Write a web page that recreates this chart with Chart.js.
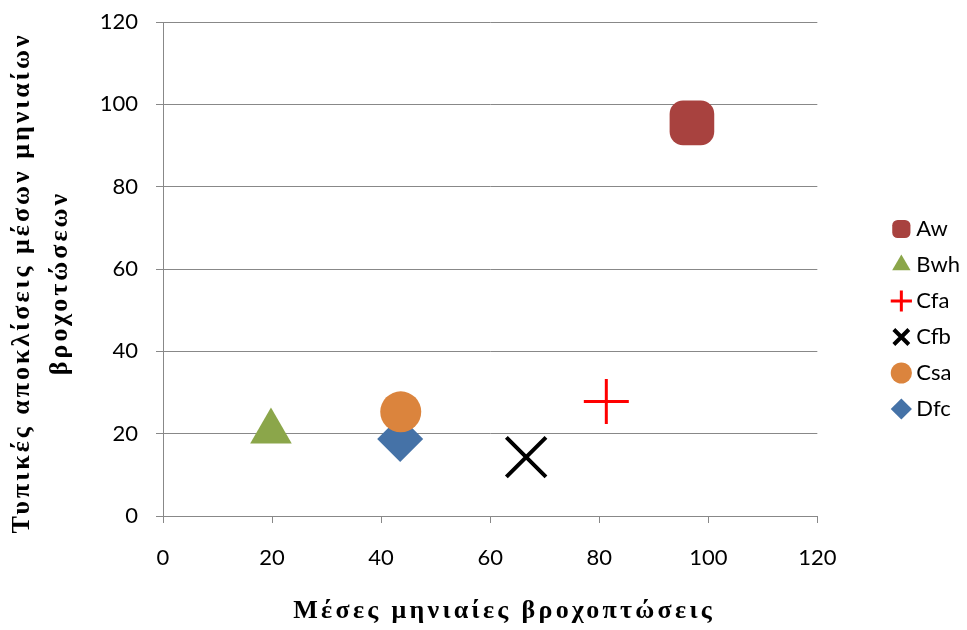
<!DOCTYPE html>
<html>
<head>
<meta charset="utf-8">
<script src="https://cdn.jsdelivr.net/npm/chart.js@4.4.1/dist/chart.umd.min.js"></script>
<style>
  html, body { margin: 0; padding: 0; background: #ffffff; }
  #wrap { width: 967px; height: 630px; position: relative; }
</style>
</head>
<body>
<div id="wrap"><canvas id="c" width="967" height="630"></canvas></div>
<script>
// ---- data ----
const seriesNames = ['Aw', 'Bwh', 'Cfa', 'Cfb', 'Csa', 'Dfc'];
const meanRain = [97, 19.8, 81.3, 66.6, 43.6, 43.5];      // x values
const stdRain  = [95.5, 20.5, 27.8, 14.3, 25.3, 18.7];    // y values
const xTicks = [0, 20, 40, 60, 80, 100, 120];
const yTicks = [0, 20, 40, 60, 80, 100, 120];
const xTitle = 'Μέσες μηνιαίες βροχοπτώσεις';
const yTitle = ['Τυπικές αποκλίσεις μέσων μηνιαίων', 'βροχοτώσεων'];

// ---- styles ----
const styles = {
  Aw:  { pointStyle: 'rectRounded', radius: 26, bg: '#A8423F', border: '#A8423F', bw: 0 },
  Bwh: { pointStyle: 'triangle',    radius: 24, bg: '#8BA64A', border: '#8BA64A', bw: 0 },
  Cfa: { pointStyle: 'cross',       radius: 22.5, bg: '#FF0000', border: '#FF0000', bw: 3 },
  Cfb: { pointStyle: 'crossRot',    radius: 28, bg: '#000000', border: '#000000', bw: 4 },
  Csa: { pointStyle: 'circle',      radius: 20.5, bg: '#DB843D', border: '#DB843D', bw: 0 },
  Dfc: { pointStyle: 'rectRot',     radius: 23, bg: '#4572A7', border: '#4572A7', bw: 0 }
};

const datasets = seriesNames.map((name, i) => {
  const s = styles[name];
  return {
    label: name,
    data: [{ x: meanRain[i], y: stdRain[i] }],
    yAxisID: 'y',
    pointStyle: s.pointStyle,
    pointRadius: s.radius,
    pointHoverRadius: s.radius,
    pointBackgroundColor: s.bg,
    pointBorderColor: s.border,
    pointBorderWidth: s.bw,
    backgroundColor: s.bg,
    borderColor: s.border,
    borderWidth: s.bw
  };
});

const gridColor = '#888888';
const tickFont = { family: 'Lato', size: 22 };

// widen axis-title lettering and nudge the titles to where the reference has them
const titleTweak = {
  id: 'titleTweak',
  afterLayout(chart) {
    const tweaks = { x: { dx: 14, dy: 0, ls: '3.3px' }, y: { dx: 0, dy: 14, ls: '3px' } };
    Object.keys(tweaks).forEach(id => {
      const s = chart.scales[id];
      if (!s || s._titleTweaked) return;
      const orig = s.drawTitle;
      const t = tweaks[id];
      s.drawTitle = function () {
        const ctx = this.ctx;
        ctx.save();
        ctx.translate(t.dx, t.dy);
        try { ctx.letterSpacing = t.ls; } catch (e) {}
        orig.call(this);
        ctx.restore();
      };
      s._titleTweaked = true;
    });
  }
};

new Chart(document.getElementById('c'), {
  type: 'scatter',
  data: { datasets },
  plugins: [titleTweak],
  options: {
    responsive: false,
    animation: false,
    events: [],
    layout: { autoPadding: false, padding: { left: 0, right: -3, top: 8, bottom: 0 } },
    plugins: {
      tooltip: { enabled: false },
      legend: {
        position: 'right',
        align: 'center',
        labels: {
          usePointStyle: true,
          boxWidth: 8,
          boxHeight: 15,
          padding: 14,
          color: '#000000',
          font: { family: 'Lato', size: 22 }
        }
      }
    },
    scales: {
      x: {
        type: 'linear',
        min: 0, max: 120,
        afterBuildTicks: (s) => { s.ticks = xTicks.map(v => ({ value: v })); },
        afterFit: (s) => { s.height = 114; },
        grid: { display: true, drawOnChartArea: false, drawTicks: true, tickLength: 7, color: gridColor, lineWidth: 1 },
        border: { display: true, color: gridColor, width: 1 },
        ticks: { font: tickFont, color: '#000000', padding: 22, maxRotation: 0 },
        title: {
          display: true, text: xTitle, color: '#000000',
          font: { family: 'Liberation Serif', size: 26, weight: 'bold', lineHeight: 1.2 },
          padding: { top: 0, bottom: 3 }
        }
      },
      y: {
        type: 'linear',
        position: 'left',
        min: 0, max: 120,
        afterBuildTicks: (s) => { s.ticks = yTicks.map(v => ({ value: v })); },
        afterFit: (s) => {
          s.width = 163;
          s.paddingTop = 22; s.paddingBottom = 14;
          s.getPadding = () => ({ left: 0, top: 22, right: 0, bottom: 14 });
        },
        grid: { display: true, drawOnChartArea: true, drawTicks: true, tickLength: 7, color: gridColor, lineWidth: 1 },
        border: { display: true, color: gridColor, width: 1 },
        ticks: { font: tickFont, color: '#000000', padding: 18 },
        title: {
          display: true, text: yTitle, color: '#000000',
          font: { family: 'Liberation Serif', size: 26, weight: 'bold', lineHeight: 1.46 },
          padding: { top: 3, bottom: 0 }
        }
      },
      yR: {
        type: 'linear',
        position: 'right',
        display: true,
        grid: { display: false },
        border: { display: false },
        ticks: { display: false },
        afterFit: (s) => { s.width = 66; }
      }
    }
  }
});
</script>
</body>
</html>
